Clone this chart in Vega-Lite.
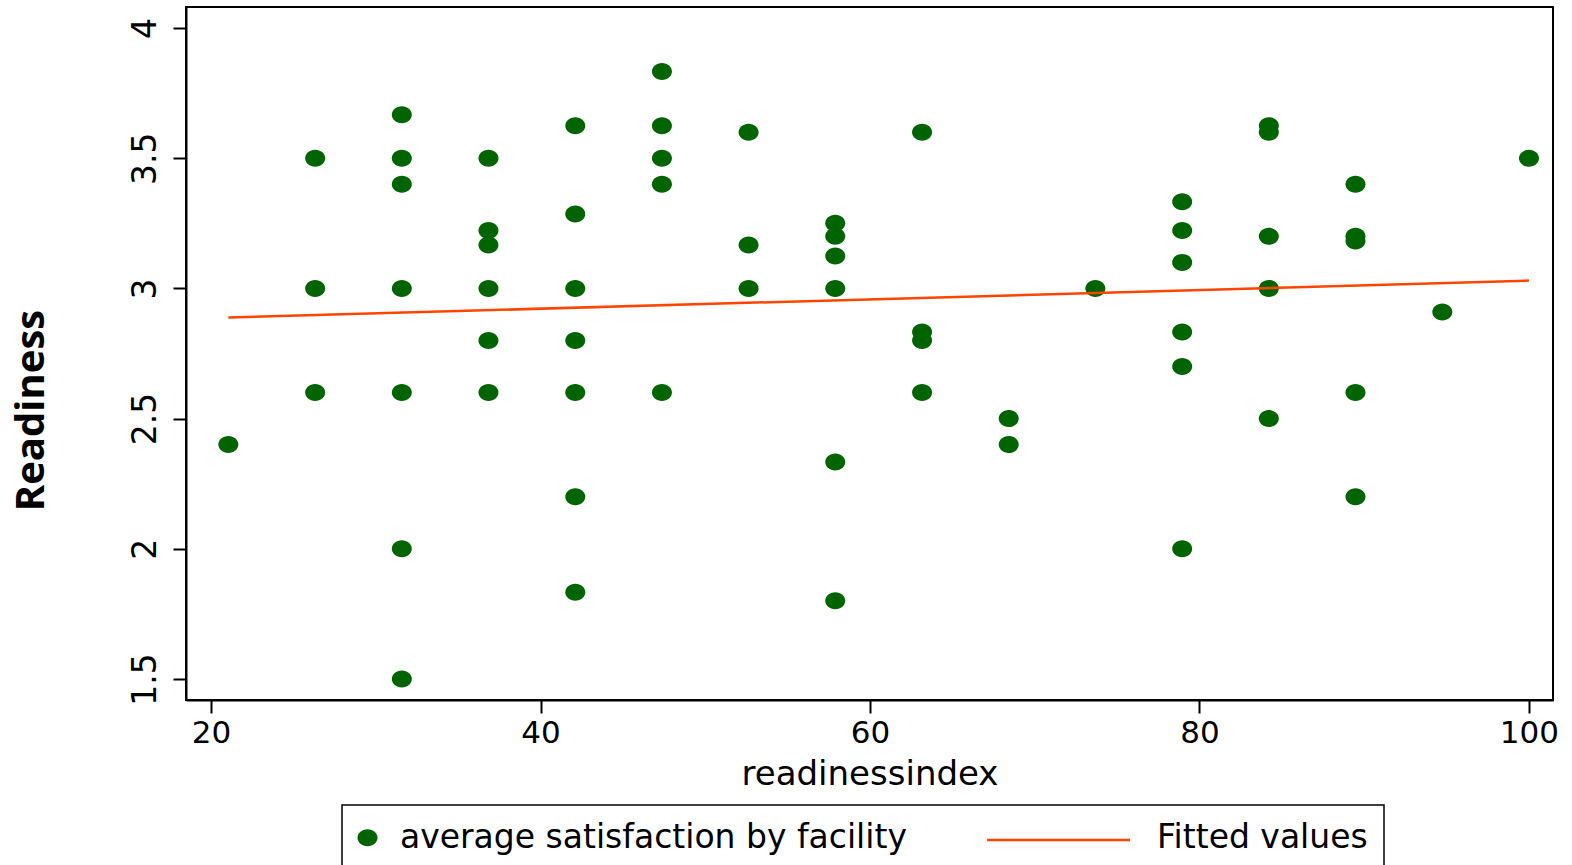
{
  "$schema": "https://vega.github.io/schema/vega-lite/v6.json",
  "width": 1367,
  "height": 693,
  "autosize": {"type": "none"},
  "padding": {"left": 186, "top": 7, "right": 19, "bottom": 165},
  "background": "white",
  "config": {"view": {"stroke": "black", "strokeWidth": 2}, "font": "DejaVu Sans"},
  "datasets": {
    "pts": [
      {"readinessindex": 21.05, "readiness": 2.4, "series": "average satisfaction by facility"},
      {"readinessindex": 26.32, "readiness": 3.5, "series": "average satisfaction by facility"},
      {"readinessindex": 26.32, "readiness": 3.0, "series": "average satisfaction by facility"},
      {"readinessindex": 26.32, "readiness": 2.6, "series": "average satisfaction by facility"},
      {"readinessindex": 31.58, "readiness": 3.667, "series": "average satisfaction by facility"},
      {"readinessindex": 31.58, "readiness": 3.5, "series": "average satisfaction by facility"},
      {"readinessindex": 31.58, "readiness": 3.4, "series": "average satisfaction by facility"},
      {"readinessindex": 31.58, "readiness": 3.0, "series": "average satisfaction by facility"},
      {"readinessindex": 31.58, "readiness": 2.6, "series": "average satisfaction by facility"},
      {"readinessindex": 31.58, "readiness": 2.0, "series": "average satisfaction by facility"},
      {"readinessindex": 31.58, "readiness": 1.5, "series": "average satisfaction by facility"},
      {"readinessindex": 36.84, "readiness": 3.5, "series": "average satisfaction by facility"},
      {"readinessindex": 36.84, "readiness": 3.222, "series": "average satisfaction by facility"},
      {"readinessindex": 36.84, "readiness": 3.167, "series": "average satisfaction by facility"},
      {"readinessindex": 36.84, "readiness": 3.0, "series": "average satisfaction by facility"},
      {"readinessindex": 36.84, "readiness": 2.8, "series": "average satisfaction by facility"},
      {"readinessindex": 36.84, "readiness": 2.6, "series": "average satisfaction by facility"},
      {"readinessindex": 42.11, "readiness": 3.625, "series": "average satisfaction by facility"},
      {"readinessindex": 42.11, "readiness": 3.286, "series": "average satisfaction by facility"},
      {"readinessindex": 42.11, "readiness": 3.0, "series": "average satisfaction by facility"},
      {"readinessindex": 42.11, "readiness": 2.8, "series": "average satisfaction by facility"},
      {"readinessindex": 42.11, "readiness": 2.6, "series": "average satisfaction by facility"},
      {"readinessindex": 42.11, "readiness": 2.2, "series": "average satisfaction by facility"},
      {"readinessindex": 42.11, "readiness": 1.833, "series": "average satisfaction by facility"},
      {"readinessindex": 47.37, "readiness": 3.833, "series": "average satisfaction by facility"},
      {"readinessindex": 47.37, "readiness": 3.625, "series": "average satisfaction by facility"},
      {"readinessindex": 47.37, "readiness": 3.5, "series": "average satisfaction by facility"},
      {"readinessindex": 47.37, "readiness": 3.4, "series": "average satisfaction by facility"},
      {"readinessindex": 47.37, "readiness": 2.6, "series": "average satisfaction by facility"},
      {"readinessindex": 52.63, "readiness": 3.6, "series": "average satisfaction by facility"},
      {"readinessindex": 52.63, "readiness": 3.167, "series": "average satisfaction by facility"},
      {"readinessindex": 52.63, "readiness": 3.0, "series": "average satisfaction by facility"},
      {"readinessindex": 57.89, "readiness": 3.25, "series": "average satisfaction by facility"},
      {"readinessindex": 57.89, "readiness": 3.2, "series": "average satisfaction by facility"},
      {"readinessindex": 57.89, "readiness": 3.125, "series": "average satisfaction by facility"},
      {"readinessindex": 57.89, "readiness": 3.0, "series": "average satisfaction by facility"},
      {"readinessindex": 57.89, "readiness": 2.333, "series": "average satisfaction by facility"},
      {"readinessindex": 57.89, "readiness": 1.8, "series": "average satisfaction by facility"},
      {"readinessindex": 63.16, "readiness": 3.6, "series": "average satisfaction by facility"},
      {"readinessindex": 63.16, "readiness": 2.833, "series": "average satisfaction by facility"},
      {"readinessindex": 63.16, "readiness": 2.8, "series": "average satisfaction by facility"},
      {"readinessindex": 63.16, "readiness": 2.6, "series": "average satisfaction by facility"},
      {"readinessindex": 68.42, "readiness": 2.5, "series": "average satisfaction by facility"},
      {"readinessindex": 68.42, "readiness": 2.4, "series": "average satisfaction by facility"},
      {"readinessindex": 73.68, "readiness": 3.0, "series": "average satisfaction by facility"},
      {"readinessindex": 78.95, "readiness": 3.333, "series": "average satisfaction by facility"},
      {"readinessindex": 78.95, "readiness": 3.222, "series": "average satisfaction by facility"},
      {"readinessindex": 78.95, "readiness": 3.1, "series": "average satisfaction by facility"},
      {"readinessindex": 78.95, "readiness": 2.833, "series": "average satisfaction by facility"},
      {"readinessindex": 78.95, "readiness": 2.7, "series": "average satisfaction by facility"},
      {"readinessindex": 78.95, "readiness": 2.0, "series": "average satisfaction by facility"},
      {"readinessindex": 84.21, "readiness": 3.625, "series": "average satisfaction by facility"},
      {"readinessindex": 84.21, "readiness": 3.6, "series": "average satisfaction by facility"},
      {"readinessindex": 84.21, "readiness": 3.2, "series": "average satisfaction by facility"},
      {"readinessindex": 84.21, "readiness": 3.0, "series": "average satisfaction by facility"},
      {"readinessindex": 84.21, "readiness": 2.5, "series": "average satisfaction by facility"},
      {"readinessindex": 89.47, "readiness": 3.4, "series": "average satisfaction by facility"},
      {"readinessindex": 89.47, "readiness": 3.2, "series": "average satisfaction by facility"},
      {"readinessindex": 89.47, "readiness": 3.182, "series": "average satisfaction by facility"},
      {"readinessindex": 89.47, "readiness": 2.6, "series": "average satisfaction by facility"},
      {"readinessindex": 89.47, "readiness": 2.2, "series": "average satisfaction by facility"},
      {"readinessindex": 94.74, "readiness": 2.909, "series": "average satisfaction by facility"},
      {"readinessindex": 100, "readiness": 3.5, "series": "average satisfaction by facility"}
    ],
    "fit": [
      {"readinessindex": 21.05, "readiness": 2.888, "series": "Fitted values"},
      {"readinessindex": 100, "readiness": 3.03, "series": "Fitted values"}
    ]
  },
  "layer": [
    {
      "data": {"name": "pts"},
      "mark": {
        "type": "point",
        "filled": true,
        "opacity": 1,
        "strokeWidth": 0,
        "size": 400,
        "shape": "M-1,0A1,0.85,0,1,0,1,0A1,0.85,0,1,0,-1,0Z"
      },
      "encoding": {
        "x": {
          "field": "readinessindex",
          "type": "quantitative",
          "scale": {"domain": [18.48, 101.46], "nice": false, "zero": false},
          "axis": {
            "values": [20, 40, 60, 80, 100],
            "grid": false,
            "domainColor": "black",
            "domainWidth": 2,
            "tickColor": "black",
            "tickWidth": 2,
            "tickSize": 13,
            "labelFont": "DejaVu Sans",
            "labelFontSize": 31,
            "labelColor": "black",
            "labelPadding": 5,
            "labelFlush": false,
            "title": "readinessindex",
            "titleFont": "DejaVu Sans",
            "titleFontSize": 34,
            "titleFontWeight": "normal",
            "titleColor": "black",
            "titlePadding": 9
          }
        },
        "y": {
          "field": "readiness",
          "type": "quantitative",
          "scale": {"domain": [1.419, 4.081], "nice": false, "zero": false},
          "axis": {
            "values": [1.5, 2, 2.5, 3, 3.5, 4],
            "grid": false,
            "domainColor": "black",
            "domainWidth": 2,
            "tickColor": "black",
            "tickWidth": 2,
            "tickSize": 13,
            "labelFont": "DejaVu Sans",
            "labelFontSize": 33,
            "labelColor": "black",
            "labelAngle": 270,
            "labelAlign": "center",
            "labelBaseline": "bottom",
            "labelPadding": 11,
            "labelFlush": false,
            "labelExpr": "datum.value + ''",
            "title": "Readiness",
            "titleFont": "Open Sans",
            "titleFontSize": 40,
            "titleFontWeight": "bold",
            "titleColor": "black",
            "titleAngle": 270,
            "titleAlign": "center",
            "titleBaseline": "middle",
            "titleX": -155,
            "titleY": 403
          }
        },
        "color": {
          "field": "series",
          "type": "nominal",
          "scale": {
            "domain": ["average satisfaction by facility", "Fitted values"],
            "range": ["#006400", "#006400"]
          },
          "legend": {
            "orient": "none",
            "legendX": 156,
            "legendY": 798,
            "direction": "horizontal",
            "title": null,
            "symbolType": "M-1,0A1,0.85,0,1,0,1,0A1,0.85,0,1,0,-1,0Z",
            "symbolSize": 400,
            "symbolStrokeWidth": 0,
            "symbolOpacity": 1,
            "symbolOffset": -7,
            "labelFont": "DejaVu Sans",
            "labelFontSize": 33,
            "labelColor": "black",
            "labelOffset": 16,
            "labelLimit": 0,
            "columnPadding": 207,
            "padding": 16,
            "strokeColor": "black",
            "cornerRadius": 0,
            "encode": {
              "legend": {
                "update": {"strokeWidth": {"value": 1.5}}
              },
              "symbols": {
                "update": {
                  "opacity": {"signal": "datum.value === 'Fitted values' ? 0 : 1"}
                }
              }
            }
          }
        }
      }
    },
    {
      "data": {"name": "fit"},
      "mark": {"type": "line", "strokeWidth": 2.5},
      "encoding": {
        "x": {"field": "readinessindex", "type": "quantitative"},
        "y": {"field": "readiness", "type": "quantitative"},
        "stroke": {
          "field": "series",
          "type": "nominal",
          "scale": {"domain": ["Fitted values"], "range": ["#FF4500"]},
          "legend": {
            "orient": "none",
            "legendX": 799.5,
            "legendY": 760,
            "title": null,
            "symbolType": "stroke",
            "symbolSize": 20449,
            "symbolStrokeWidth": 2.5,
            "labelExpr": "''",
            "labelFontSize": 1,
            "padding": 0
          }
        }
      }
    }
  ]
}
